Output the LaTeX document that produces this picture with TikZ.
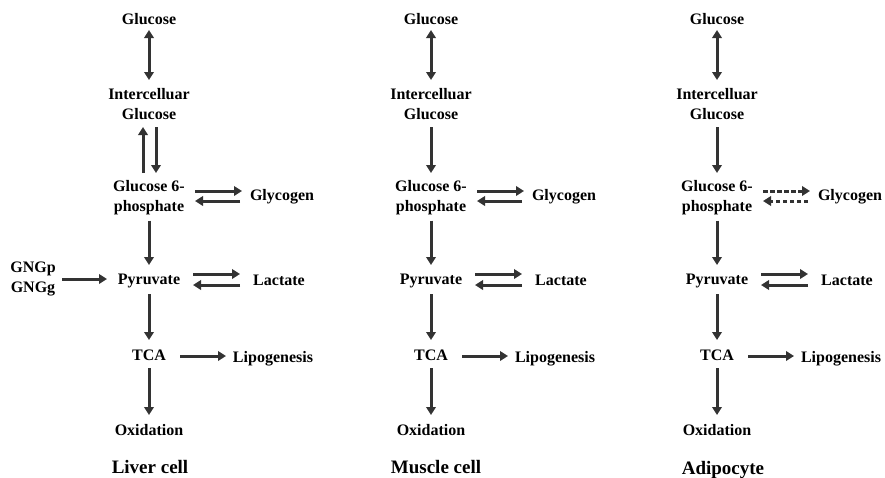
\documentclass[tikz,border=0pt]{standalone}
\usepackage{fontspec}
\setmainfont{Liberation Serif}
\usetikzlibrary{arrows.meta,calc}
\definecolor{arrcol}{HTML}{333333}
\tikzset{
  lbl/.style={inner sep=0pt,font=\fontsize{16}{20}\selectfont\bfseries,align=center,text=black},
  ttl/.style={inner sep=0pt,font=\fontsize{19}{22}\selectfont\bfseries,text=black},
  arr/.style={draw=arrcol,line width=3pt,-{Triangle[length=8pt,width=9.5pt]}},
  darr/.style={draw=arrcol,line width=3pt,{Triangle[length=8pt,width=9.5pt]}-{Triangle[length=8pt,width=9.5pt]}},
  dsh/.style={dash pattern=on 4.5pt off 2.5pt}
}
\newcommand{\cellcol}[5]{%
  \node[lbl] (#1glu) at (#2,19) {Glucose};
  \node[lbl] (#1ig) at (#2,104) {Intercelluar\\Glucose};
  \node[lbl] (#1g6p) at (#2,197.5) {Glucose 6-\\phosphate};
  \node[lbl] (#1pyr) at (#2,281) {Pyruvate};
  \node[lbl] (#1tca) at (#2,355) {TCA};
  \node[lbl] (#1oxi) at (#2,430) {Oxidation};
  \node[lbl] (#1gly) at ($(#1g6p)+(133,-0.5)$) {Glycogen};
  \node[lbl] (#1lac) at ($(#1pyr)+(130,-1)$) {Lactate};
  \node[lbl] (#1lip) at ($(#1tca)+(124,4)$) {Lipogenesis};
  \node[ttl] (#1ttl) at (#5,#4) {#3};
  \draw[darr] ($(#1glu)+(0,11)$) -- ($(#1ig)+(0,-24)$);
  \draw[arr] ($(#1g6p)+(0,23)$) -- ($(#1pyr)+(0,-16)$);
  \draw[arr] ($(#1pyr)+(44,-7)$) -- ($(#1lac)+(-39,-6)$);
  \draw[arr] ($(#1lac)+(-39,5)$) -- ($(#1pyr)+(44,4)$);
  \draw[arr] ($(#1pyr)+(0,13)$) -- ($(#1tca)+(0,-15)$);
  \draw[arr] ($(#1tca)+(31,1)$) -- ($(#1lip)+(-47,-3)$);
  \draw[arr] ($(#1tca)+(0,13)$) -- ($(#1oxi)+(0,-15)$);
}
\begin{document}
\begin{tikzpicture}[x=1pt,y=-1pt]
\useasboundingbox (0,0) rectangle (885,477);
\cellcol{L}{149}{Liver cell}{467}{150}
\cellcol{M}{431}{Muscle cell}{467}{436}
\cellcol{A}{717}{Adipocyte}{470}{723}
% liver extras
\node[lbl] (gng) at (33,278.5) {GNGp\\GNGg};
\draw[arr] ($(gng)+(29,0.5)$) -- ($(Lpyr)+(-42,-2)$);
\draw[arr] ($(Lg6p)+(-6,-24.5)$) -- ($(Lig)+(-6,23)$);
\draw[arr] ($(Lig)+(7,23)$) -- ($(Lg6p)+(7,-24.5)$);
\draw[arr] ($(Lg6p)+(46,-6.5)$) -- ($(Lgly)+(-40,-6)$);
\draw[arr] ($(Lgly)+(-42,4)$) -- ($(Lg6p)+(46,3.5)$);
% muscle
\draw[arr] ($(Mig)+(0,23)$) -- ($(Mg6p)+(0,-24.5)$);
\draw[arr] ($(Mg6p)+(46,-6.5)$) -- ($(Mgly)+(-40,-6)$);
\draw[arr] ($(Mgly)+(-42,4)$) -- ($(Mg6p)+(46,3.5)$);
% adipocyte
\draw[arr] ($(Aig)+(0,23)$) -- ($(Ag6p)+(0,-24.5)$);
\draw[arr,dsh] ($(Ag6p)+(46,-6.5)$) -- ($(Agly)+(-40,-6)$);
\draw[arr,dsh] ($(Agly)+(-42,4)$) -- ($(Ag6p)+(46,3.5)$);
\end{tikzpicture}
\end{document}
